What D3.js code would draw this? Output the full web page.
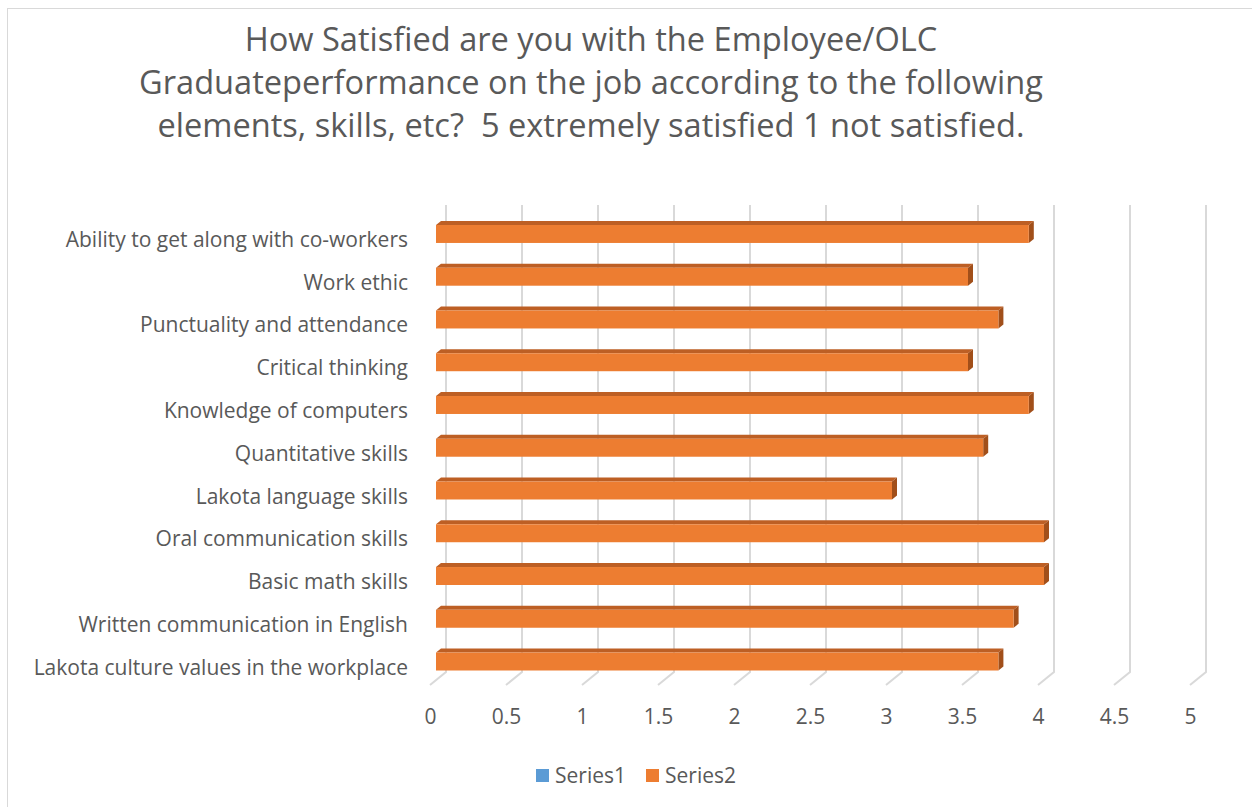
<!DOCTYPE html>
<html>
<head>
<meta charset="utf-8">
<script src="https://cdn.jsdelivr.net/npm/d3@7"></script>
<style>
  body { margin: 0; background: #fff; }
  text { font-family: "Open Sans", sans-serif; fill: #595959; white-space: pre; }
</style>
</head>
<body>
<script>
// chart data
const categories = [
  "Ability to get along with co-workers",
  "Work ethic",
  "Punctuality and attendance",
  "Critical thinking",
  "Knowledge of computers",
  "Quantitative skills",
  "Lakota language skills",
  "Oral communication skills",
  "Basic math skills",
  "Written communication in English",
  "Lakota culture values in the workplace"
];
const series1 = [0, 0, 0, 0, 0, 0, 0, 0, 0, 0, 0];
const series2 = [3.9, 3.5, 3.7, 3.5, 3.9, 3.6, 3.0, 4.0, 4.0, 3.8, 3.7];
const tickValues = [0, 0.5, 1, 1.5, 2, 2.5, 3, 3.5, 4, 4.5, 5];
const titleLines = [
  "How Satisfied are you with the Employee/OLC",
  "Graduateperformance on the job according to the following",
  "elements, skills, etc?  5 extremely satisfied 1 not satisfied."
];
const legendNames = ["Series1", "Series2"];

const width = 1252, height = 807;
const depthX = 5, depthY = 4;

const svg = d3.select("body").append("svg")
  .attr("width", width)
  .attr("height", height);

svg.append("rect")
  .attr("x", 7.5).attr("y", 8.5)
  .attr("width", 1250).attr("height", 805)
  .attr("fill", "#fff")
  .attr("stroke", "#d9d9d9");

// title
svg.append("g").selectAll("text")
  .data(titleLines)
  .join("text")
  .attr("x", 591)
  .attr("y", (d, i) => 51 + i * 43)
  .attr("text-anchor", "middle")
  .style("font-size", "32.6px")
  .text(d => d);

// scales: back wall, bar plane, front floor edge
const xBack = d3.scaleLinear().domain([0, 5]).range([446, 1206]);
const xBar = d3.scaleLinear().domain([0, 5]).range([436, 1196]);
const xFront = d3.scaleLinear().domain([0, 5]).range([430, 1190]);

const y = d3.scaleBand()
  .domain(categories)
  .range([212.6, 682.9])
  .paddingInner(0.58)
  .paddingOuter(0.29);

// gridlines (back wall + floor)
const gridTop = 205, gridBottom = 672, floorBottom = 685;
svg.append("g").selectAll("path")
  .data(tickValues)
  .join("path")
  .attr("d", d => `M${xBack(d)},${gridTop}V${gridBottom}L${xFront(d)},${floorBottom}`)
  .attr("fill", "none")
  .attr("stroke", "#d9d9d9")
  .attr("stroke-width", 2);

// category labels
svg.append("g").selectAll("text")
  .data(categories)
  .join("text")
  .attr("x", 408)
  .attr("y", d => y(d) + y.bandwidth() / 2 + 13)
  .attr("text-anchor", "end")
  .style("font-size", "21px")
  .text(d => d);

// x axis labels
const xAxis = d3.axisBottom(xFront)
  .tickValues(tickValues)
  .tickSize(0)
  .tickPadding(0)
  .tickFormat(d3.format("~g"));

const axisG = svg.append("g")
  .attr("transform", "translate(0,709)")
  .call(xAxis);
axisG.select(".domain").remove();
axisG.selectAll("text")
  .attr("fill", "#595959")
  .style("font-size", "21px")
  .style("font-family", "'Open Sans', sans-serif");

// 3D bars
const bars = categories.map((c, i) => ({ cat: c, s1: series1[i], v: series2[i] }));

const barG = svg.append("g").selectAll("g")
  .data(bars)
  .join("g");

barG.append("path")
  .attr("d", d => {
    const x0 = xBar(0), x1 = xBar(d.v), yt = y(d.cat);
    return `M${x0},${yt}L${x0 + depthX},${yt - depthY}L${x1 + depthX},${yt - depthY}L${x1},${yt}Z`;
  })
  .attr("fill", "#bd5f24");

barG.append("path")
  .attr("d", d => {
    const x1 = xBar(d.v), yt = y(d.cat), yb = yt + y.bandwidth();
    return `M${x1},${yt}L${x1 + depthX},${yt - depthY}L${x1 + depthX},${yb - depthY}L${x1},${yb}Z`;
  })
  .attr("fill", "#a14f1a");

barG.append("rect")
  .attr("x", xBar(0))
  .attr("y", d => y(d.cat))
  .attr("width", d => xBar(d.v) - xBar(0))
  .attr("height", y.bandwidth())
  .attr("fill", "#ed7d31");

// series1 (all zero)
barG.append("rect")
  .attr("x", xBar(0))
  .attr("y", d => y(d.cat))
  .attr("width", d => xBar(d.s1) - xBar(0))
  .attr("height", y.bandwidth())
  .attr("fill", "#5b9bd5");

// legend
const legendColors = ["#5b9bd5", "#ed7d31"];
const leg = svg.append("g").selectAll("g")
  .data(legendNames)
  .join("g")
  .attr("transform", (d, i) => `translate(${536 + i * 110},769)`);
leg.append("rect")
  .attr("width", 13).attr("height", 13)
  .attr("fill", (d, i) => legendColors[i]);
leg.append("text")
  .attr("x", 19).attr("y", 14)
  .style("font-size", "21px")
  .text(d => d);
</script>
</body>
</html>
